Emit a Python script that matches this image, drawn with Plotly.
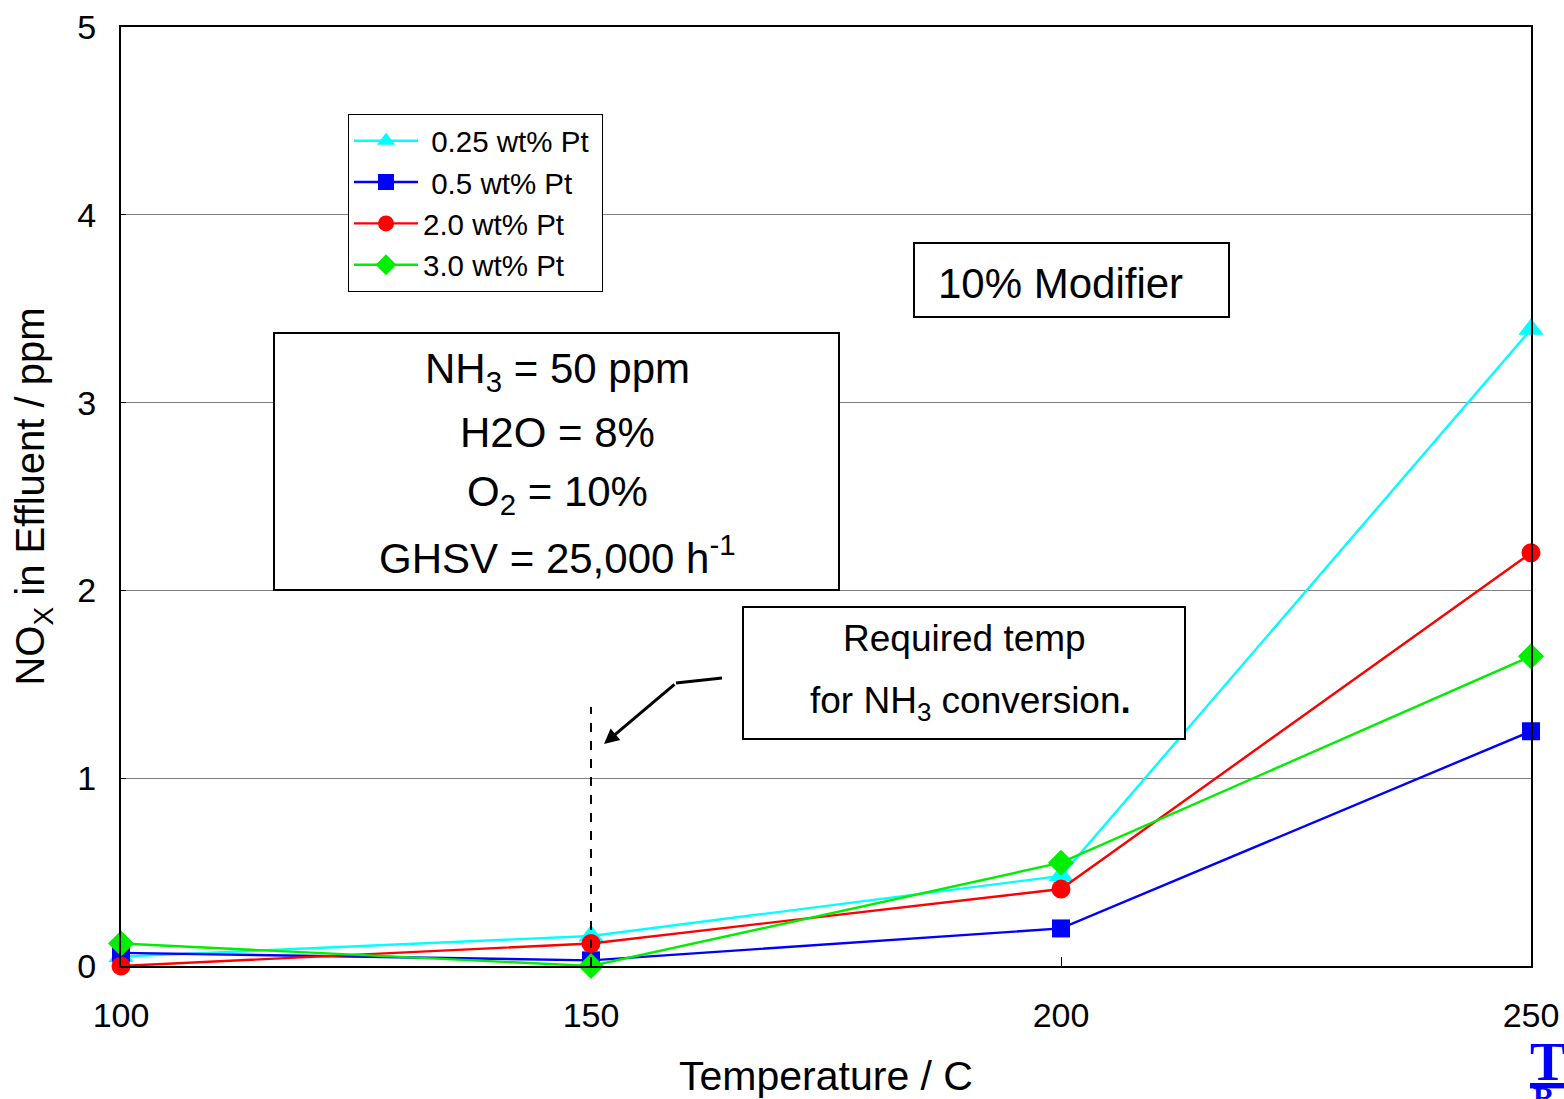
import plotly.graph_objects as go

temps = [100, 150, 200, 250]
series_names = [" 0.25 wt% Pt ", " 0.5 wt% Pt", "2.0 wt% Pt", "3.0 wt% Pt"]
pt_025 = [0.05, 0.16, 0.48, 3.39]
pt_05 = [0.07, 0.03, 0.20, 1.25]
pt_20 = [0.00, 0.12, 0.41, 2.20]
pt_30 = [0.12, 0.00, 0.55, 1.65]
x_ticks = [100, 150, 200, 250]
y_ticks = [0, 1, 2, 3, 4, 5]

FONT = "Arial, Liberation Sans, sans-serif"

styles = [
    dict(color="#00FFFF", symbol="triangle-up", size=22),
    dict(color="#0000FF", symbol="square", size=18),
    dict(color="#FF0000", symbol="circle", size=19),
    dict(color="#00EE00", symbol="diamond", size=20),
]

fig = go.Figure()
for name, vals, st in zip(series_names, [pt_025, pt_05, pt_20, pt_30], styles):
    fig.add_trace(go.Scatter(
        x=temps, y=vals, name=name, mode="lines+markers",
        line=dict(color=st["color"], width=2.4),
        marker=dict(color=st["color"], symbol=st["symbol"], size=st["size"], line=dict(width=0)),
        cliponaxis=False,
    ))

def px2x(px):
    return 100 + (px - 121) / 1410 * 150

def py2y(py):
    return (966 - py) / 187.8

shapes = []
shapes.append(dict(type="line", xref="x", yref="y", x0=150, x1=150, y0=0, y1=py2y(707),
                   line=dict(color="black", width=2, dash="dash")))
shapes.append(dict(type="line", xref="x", yref="y", x0=px2x(722), y0=py2y(678), x1=px2x(676), y1=py2y(683),
                   line=dict(color="black", width=3)))
for (x0, x1, y0, y1) in [(274, 839, 333, 590), (914, 1229, 243, 317), (743, 1185, 607, 739)]:
    shapes.append(dict(type="rect", xref="x", yref="y", x0=px2x(x0), x1=px2x(x1), y0=py2y(y1), y1=py2y(y0),
                       line=dict(color="black", width=2), fillcolor="white", layer="above"))

annotations = []
annotations.append(dict(x=px2x(604), y=py2y(744), ax=px2x(676), ay=py2y(683), xref="x", yref="y",
                        axref="x", ayref="y", showarrow=True, arrowhead=2, arrowsize=1, arrowwidth=3,
                        arrowcolor="black", text=""))
box_lines = [
    ("NH<sub>3</sub> = 50 ppm", 557, 371),
    ("H2O = 8%", 557, 432),
    ("O<sub>2</sub> = 10%", 557, 494),
    ("GHSV = 25,000 h<sup>-1</sup>", 557, 555),
]
for txt, px, py in box_lines:
    annotations.append(dict(x=px2x(px), y=py2y(py), xref="x", yref="y", text=txt, showarrow=False,
                            font=dict(family=FONT, size=42, color="black")))
annotations.append(dict(x=px2x(1060), y=py2y(283), xref="x", yref="y", text="10% Modifier", showarrow=False,
                        font=dict(family=FONT, size=42, color="black")))
annotations.append(dict(x=px2x(964), y=py2y(638), xref="x", yref="y", text="Required temp", showarrow=False,
                        font=dict(family=FONT, size=37, color="black")))
annotations.append(dict(x=px2x(970), y=py2y(703), xref="x", yref="y",
                        text="for NH<sub>3</sub> conversion<b>.</b>", showarrow=False,
                        font=dict(family=FONT, size=37, color="black")))
# logo fragment at bottom-right corner
annotations.append(dict(x=(1528 - 121) / 1410, y=(966 - 1030) / 939, xref="paper", yref="paper",
                        text="<b><u>T</u></b>", showarrow=False, xanchor="left", yanchor="top",
                        font=dict(family="Liberation Serif, Times New Roman, serif", size=54, color="#0000FF")))
annotations.append(dict(x=(1531 - 121) / 1410, y=(966 - 1078) / 939, xref="paper", yref="paper",
                        text="<b>R A</b>", showarrow=False, xanchor="left", yanchor="top",
                        font=dict(family="Liberation Serif, Times New Roman, serif", size=30, color="#0000FF")))

fig.update_layout(
    width=1564, height=1099,
    margin=dict(l=121, r=33, t=27, b=133, autoexpand=False),
    paper_bgcolor="white", plot_bgcolor="white",
    font=dict(family=FONT, color="black"),
    showlegend=True,
    legend=dict(x=(348 - 121) / 1410, y=(966 - 114) / 939, xanchor="left", yanchor="top",
                xref="paper", yref="paper",
                bgcolor="white", bordercolor="black", borderwidth=1,
                font=dict(family=FONT, size=29.5, color="black"), tracegroupgap=0,
                itemsizing="trace", itemwidth=64),
    shapes=shapes,
    annotations=annotations,
    xaxis=dict(range=[100, 250], tickvals=x_ticks, ticks="inside", ticklen=9, tickcolor="black",
               showline=True, linecolor="black", linewidth=2, mirror=True, showgrid=False,
               zeroline=False, automargin=False, tickfont=dict(family=FONT, size=34), ticklabelstandoff=18,
               title=dict(text="Temperature / C", font=dict(family=FONT, size=41), standoff=30)),
    yaxis=dict(range=[0, 5], tickvals=y_ticks, ticks="inside", ticklen=5, tickcolor="black",
               showline=True, linecolor="black", linewidth=2, mirror=True, showgrid=True,
               gridcolor="#808080", gridwidth=1, zeroline=False, automargin=False,
               tickfont=dict(family=FONT, size=34), ticklabelstandoff=16,
               title=dict(text="NO<sub>X</sub> in Effluent / ppm", font=dict(family=FONT, size=40), standoff=20)),
)

fig.write_html("out.html", config={"displayModeBar": False},
               post_script="document.body.style.margin='0px';document.body.style.overflow='hidden';")
